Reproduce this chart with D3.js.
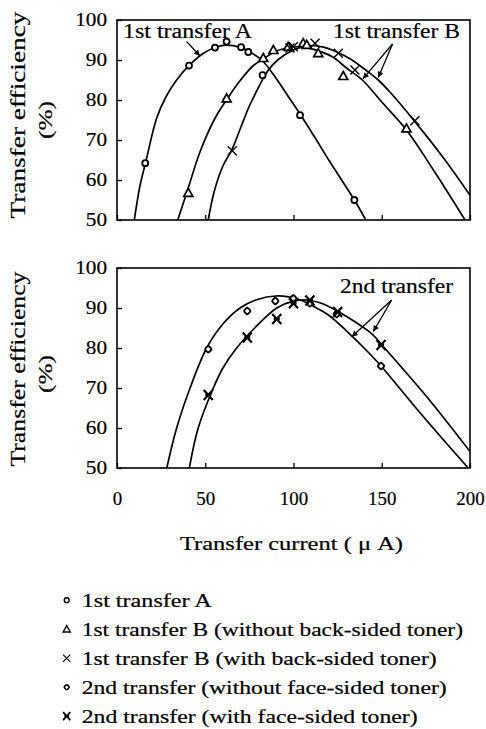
<!DOCTYPE html>
<html><head><meta charset="utf-8">
<script src="https://cdn.jsdelivr.net/npm/d3@7"></script>
<style>
html,body{margin:0;padding:0;background:#fff;}
svg text{font-family:"Liberation Serif","Times New Roman",serif;fill:#000;stroke:#000;stroke-width:0.2px;}
</style></head>
<body>
<svg id="chart" width="486" height="729"></svg>
<script>
// ---------- data ----------
const xTicks = [0, 50, 100, 150, 200];
const yTicks = [50, 60, 70, 80, 90, 100];

// measured points, top panel
const transferA = [[16,64.2],[40.8,88.6],[55.5,93.1],[62.1,94.6],[70.3,93.2],[74.4,92.0],[82.5,86.2],[103.7,76.2],[134.5,55]];
const transferBWithout = [[40.4,56.8],[62.1,80.4],[82.9,90.5],[88.6,92.5],[97,93.3],[105.5,94.2],[107.5,93.8],[114,91.7],[128.2,86],[164,72.9]];
const transferBWith = [[65.3,67.3],[98,93],[99.9,93.3],[112.2,94.2],[125.4,91.7],[134.8,87.5],[168.8,74.8]];
// fitted curves, top panel
const fitA = [[9.8,50],[13,58.5],[16.3,64.5],[22.5,75.5],[28,81],[33.8,85],[41,88.7],[49,91.7],[56,93.2],[62,93.7],[70,93.1],[76,91.8],[82,90],[90,85.5],[97.9,80.3],[103.7,76.5],[113,70],[120,65],[128,59.5],[134.5,55],[141,50]];
const fitBWithout = [[34.4,50],[40,57.5],[47,67],[55,75],[62,80],[70,85],[77,88.5],[83,90.3],[90,92.2],[97,93],[104,93.3],[112,92.6],[122,90.8],[130,88],[139,85],[150,79.5],[164,72.5],[180,62],[197.2,50]];
const fitBWith = [[51.7,50],[55,57],[60,63.5],[65.3,67.8],[70,73],[75,78.5],[80,83],[85,87],[91,90],[100,92.5],[109,93.6],[117,93.2],[124.5,92],[132,90.3],[141.5,87.3],[148,85],[155,81.8],[168.8,74.6],[185,65.5],[200,56.2]];

// measured points, bottom panel
const secondWithout = [[51.7,79.7],[73.8,89.25],[89.7,91.75],[99.9,92.4],[109.3,91.2],[124.5,88.5],[149.6,75.5]];
const secondWith = [[51.7,68.25],[73.8,82.6],[90.5,87.25],[100,91.2],[109.3,91.9],[125,89],[149.6,80.75]];
// fitted curves, bottom panel
const fitSecondWithout = [[28.2,50],[33.8,60],[41.4,70],[50.8,80],[60,86],[69.7,90],[80,92.2],[90,93],[97,92.8],[105,91.8],[113,90],[120,88.2],[130,84.3],[140,80],[149.6,75.5],[160,70],[171.7,63.8],[185,57],[199,50]];
const fitSecondWith = [[41,50],[46,60],[54.6,70],[60,75],[67.8,80],[78,85],[90.5,90],[100,91.7],[107.5,92],[115,91.3],[125,89.2],[135,86.5],[145,83.3],[151,80.3],[175.5,67.8],[200,54.1]];

// annotations: label, arrow start and arrow tips (data units)
const annotTop = [
  {label:"1st transfer A", from:[39.5,94.6], to:[[47,91]]},
  {label:"1st transfer B", from:[156.1,94], to:[[139.3,85.3],[148,85.6]]}
];
const annotBottom = [
  {label:"2nd transfer", from:[155.6,92], to:[[133,82.8],[145.2,84.1]]}
];

const legendLabels = [
  "1st transfer A",
  "1st transfer B (without back-sided toner)",
  "1st transfer B (with back-sided toner)",
  "2nd transfer (without face-sided toner)",
  "2nd transfer (with face-sided toner)"
];

// ---------- drawing ----------
const svg = d3.select("#chart");
const L = 117, R = 470;
const x = d3.scaleLinear().domain([0,200]).range([L,R]);
const yT = d3.scaleLinear().domain([50,100]).range([220,20]);
const yB = d3.scaleLinear().domain([50,100]).range([468,268]);

function stretch(sel, k){
  sel.each(function(){
    const w = this.getComputedTextLength();
    this.setAttribute("textLength", w*k);
    this.setAttribute("lengthAdjust","spacingAndGlyphs");
  });
}
function fitLen(sel, len){
  sel.attr("textLength", len).attr("lengthAdjust","spacingAndGlyphs");
}

const defs = svg.append("defs");
defs.append("marker").attr("id","ah").attr("viewBox","0 0 10 10")
  .attr("refX",10).attr("refY",5).attr("markerWidth",8).attr("markerHeight",6)
  .attr("markerUnits","userSpaceOnUse").attr("orient","auto")
  .append("path").attr("d","M0,0 L10,5 L0,10 Z").attr("fill","#000");

const sym = {
  circle: (g)=>g.append("circle").attr("r",3).attr("fill","#fff").attr("stroke","#000").attr("stroke-width",1.8),
  triangle: (g)=>g.append("path").attr("d","M0,-4.5 L4.5,3.5 L-4.5,3.5 Z").attr("fill","#fff").attr("stroke","#000").attr("stroke-width",1.7),
  cross: (g)=>g.append("path").attr("d","M-4.5,-4.5 L4.5,4.5 M-4.5,4.5 L4.5,-4.5").attr("stroke","#000").attr("stroke-width",1.4).attr("fill","none"),
  diamond: (g)=>g.append("rect").attr("x",-2.6).attr("y",-2.6).attr("width",5.2).attr("height",5.2).attr("rx",1.5)
      .attr("transform","rotate(45)").attr("fill","#fff").attr("stroke","#000").attr("stroke-width",1.9),
  boldcross: (g)=>g.append("path").attr("d","M-4.5,-5 L4.5,5 M-4.5,5 L4.5,-5 M-3,0 L3,0").attr("stroke","#000").attr("stroke-width",2.2).attr("fill","none")
};

function panel(y, id, fits, series, annots, showX){
  const g = svg.append("g");
  defs.append("clipPath").attr("id",id).append("rect")
    .attr("x",L).attr("y",y.range()[1]).attr("width",R-L).attr("height",y.range()[0]-y.range()[1]);
  const line = d3.line().x(d=>x(d[0])).y(d=>y(d[1])).curve(d3.curveCatmullRom.alpha(0.5));
  const cg = g.append("g").attr("clip-path",`url(#${id})`);
  fits.forEach(f=>cg.append("path").attr("d",line(f)).attr("fill","none").attr("stroke","#000").attr("stroke-width",1.7));

  const ya = g.append("g").attr("transform",`translate(${L},0)`)
    .call(d3.axisLeft(y).tickValues(yTicks).tickSizeInner(-5).tickSizeOuter(0).tickPadding(10));
  ya.select(".domain").remove();
  ya.selectAll("line").attr("stroke-width",1.3);
  ya.selectAll("text").attr("font-size",18).attr("font-family",null);
  stretch(ya.selectAll("text"),1.18);

  const xa = g.append("g").attr("transform",`translate(0,${y.range()[0]})`)
    .call(d3.axisBottom(x).tickValues(xTicks).tickSizeInner(-5).tickSizeOuter(0).tickPadding(24));
  xa.select(".domain").remove();
  xa.selectAll("line").attr("stroke-width",1.3);
  xa.selectAll("text").attr("font-size",18).attr("font-family",null);
  if(!showX) xa.selectAll("text").remove(); else stretch(xa.selectAll("text"),1.05);

  g.append("rect").attr("x",L).attr("y",y.range()[1]).attr("width",R-L).attr("height",y.range()[0]-y.range()[1])
    .attr("fill","none").attr("stroke","#000").attr("stroke-width",1.6);

  series.forEach(s=>{
    s.data.forEach(d=>{
      const m = g.append("g").attr("transform",`translate(${x(d[0])},${y(d[1])})`);
      sym[s.shape](m);
    });
  });

  annots.forEach(a=>{
    a.to.forEach(t=>{
      g.append("line").attr("x1",x(a.from[0])).attr("y1",y(a.from[1]))
        .attr("x2",x(t[0])).attr("y2",y(t[1])).attr("stroke","#000").attr("stroke-width",1.3)
        .attr("marker-end","url(#ah)");
    });
  });
  return g;
}

const gTop = panel(yT, "clipT", [fitA, fitBWithout, fitBWith],
  [{data:transferA,shape:"circle"},{data:transferBWithout,shape:"triangle"},{data:transferBWith,shape:"cross"}],
  annotTop, false);
const gBot = panel(yB, "clipB", [fitSecondWithout, fitSecondWith],
  [{data:secondWithout,shape:"diamond"},{data:secondWith,shape:"boldcross"}],
  annotBottom, true);

// annotation labels
gTop.append("text").attr("x",123).attr("y",38).attr("font-size",20).text(annotTop[0].label).call(fitLen,129);
gTop.append("text").attr("x",333).attr("y",38).attr("font-size",20).text(annotTop[1].label).call(fitLen,127);
gBot.append("text").attr("x",340).attr("y",293).attr("font-size",20).text(annotBottom[0].label).call(fitLen,113);

// y titles
function ytitle(cy, len){
  svg.append("text").attr("transform",`translate(25,${cy}) rotate(-90)`).attr("text-anchor","middle")
    .attr("font-size",20).text("Transfer efficiency").call(fitLen,len);
  svg.append("text").attr("transform",`translate(52,${cy+5}) rotate(-90)`).attr("text-anchor","middle")
    .attr("font-size",19).text("(%)").call(fitLen,38);
}
ytitle(115, 207);
ytitle(369, 195);

// x title
svg.append("text").attr("x",180).attr("y",550).attr("font-size",19).text("Transfer current ( \u03bc A)").call(fitLen,223);

// legend
const shapes = ["circle","triangle","cross","diamond","boldcross"];
const lg = svg.append("g");
legendLabels.forEach((lab,i)=>{
  const by = 606.7 + 29*i;
  const m = lg.append("g").attr("transform",`translate(66.7,${by-6.5}) scale(0.8)`);
  sym[shapes[i]](m);
  lg.append("text").attr("x",81.7).attr("y",by).attr("font-size",18).text(lab);
});
const legEnds = [211.7, 463, 436.7, 446.7, 417.7];
lg.selectAll("text").each(function(d,i){
  this.setAttribute("textLength", legEnds[i]-81.7);
  this.setAttribute("lengthAdjust","spacingAndGlyphs");
});
</script>
</body></html>
